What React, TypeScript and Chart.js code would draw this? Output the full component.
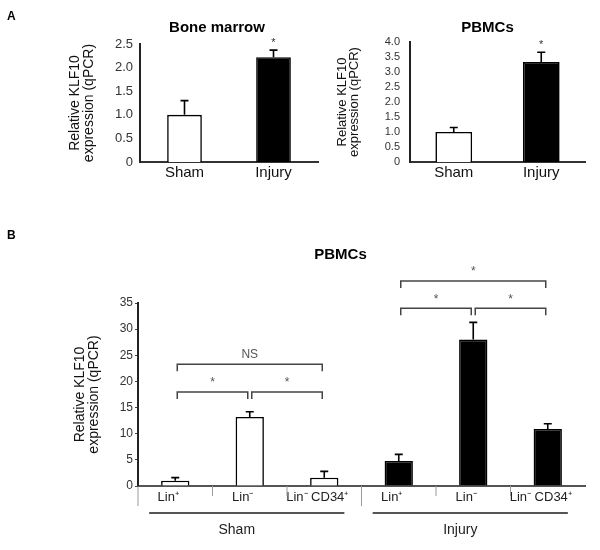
import React, { useEffect, useRef } from 'react';
import { Chart, registerables } from 'chart.js';

Chart.register(...registerables);

const FONT = '"Liberation Sans", Arial, Helvetica, sans-serif';

// ---------- Panel A: bone marrow ----------
const bmCategories = ['Sham', 'Injury'];
const bmValues = [1.0, 2.22];
const bmErrors = [0.3, 0.15];
const bmMarks = ['', '*'];

// ---------- Panel A: PBMCs ----------
const pbCategories = ['Sham', 'Injury'];
const pbValues = [1.0, 3.33];
const pbErrors = [0.15, 0.33];
const pbMarks = ['', '*'];

// ---------- Panel B: PBMC subsets ----------
const bCategories = ['Lin⁺', 'Lin⁻', 'Lin⁻ CD34⁺', 'Lin⁺', 'Lin⁻', 'Lin⁻ CD34⁺'];
const bValues = [1.0, 13.2, 1.6, 4.8, 28.0, 10.9];
const bErrors = [0.6, 1.0, 1.2, 1.25, 3.3, 1.0];
const bGroups = [
  { label: 'Sham', from: 0, to: 2 },
  { label: 'Injury', from: 3, to: 5 },
];
const bBrackets = [
  { from: 0, to: 1, level: 18, label: '*' },
  { from: 1, to: 2, level: 18, label: '*' },
  { from: 0, to: 2, level: 23.3, label: 'NS' },
  { from: 3, to: 4, level: 34, label: '*' },
  { from: 4, to: 5, level: 34, label: '*' },
  { from: 3, to: 5, level: 39.2, label: '*' },
];

const yTitle = ['Relative KLF10', 'expression (qPCR)'];

type Txt = { text: string; dx?: number; x?: number; y: number; font: string };

const errorBarPlugin = (errors: number[], marks: string[]) => ({
  id: 'errorBars',
  afterDatasetsDraw(chart: any) {
    const { ctx } = chart;
    const yScale = chart.scales.y;
    const meta = chart.getDatasetMeta(0);
    const data = chart.data.datasets[0].data as number[];
    ctx.save();
    ctx.strokeStyle = '#000';
    ctx.lineWidth = 1.6;
    meta.data.forEach((bar: any, i: number) => {
      const base = yScale.getPixelForValue(data[i]);
      const top = yScale.getPixelForValue(data[i] + errors[i]);
      ctx.beginPath();
      ctx.moveTo(bar.x, base);
      ctx.lineTo(bar.x, top);
      ctx.moveTo(bar.x - 4, top);
      ctx.lineTo(bar.x + 4, top);
      ctx.stroke();
      if (marks[i]) {
        ctx.fillStyle = '#333';
        ctx.font = `11px ${FONT}`;
        ctx.textAlign = 'center';
        ctx.textBaseline = 'middle';
        ctx.fillText(marks[i], bar.x, top - 7);
      }
    });
    ctx.restore();
  },
});

const textPlugin = (texts: Txt[]) => ({
  id: 'panelTexts',
  afterDraw(chart: any) {
    const { ctx, chartArea } = chart;
    ctx.save();
    ctx.fillStyle = '#000';
    ctx.textBaseline = 'middle';
    texts.forEach((t) => {
      ctx.font = t.font;
      if (t.x !== undefined) {
        ctx.textAlign = 'left';
        ctx.fillText(t.text, t.x, t.y);
      } else {
        ctx.textAlign = 'center';
        ctx.fillText(t.text, (chartArea.left + chartArea.right) / 2 + (t.dx || 0), t.y);
      }
    });
    ctx.restore();
  },
});

const bracketPlugin = {
  id: 'brackets',
  afterDraw(chart: any) {
    const { ctx, chartArea } = chart;
    const x = chart.scales.x;
    const y = chart.scales.y;
    const w = x.getPixelForValue(1) - x.getPixelForValue(0);
    ctx.save();
    // significance brackets
    ctx.strokeStyle = '#444';
    ctx.lineWidth = 1.5;
    ctx.fillStyle = '#555';
    ctx.textAlign = 'center';
    ctx.textBaseline = 'middle';
    ctx.font = `12px ${FONT}`;
    bBrackets.forEach((b) => {
      const x1 = x.getPixelForValue(b.from) + 2;
      const x2 = x.getPixelForValue(b.to) - 2;
      const yy = y.getPixelForValue(b.level);
      ctx.beginPath();
      ctx.moveTo(x1, yy + 7);
      ctx.lineTo(x1, yy);
      ctx.lineTo(x2, yy);
      ctx.lineTo(x2, yy + 7);
      ctx.stroke();
      ctx.fillText(b.label, (x1 + x2) / 2, yy - 9);
    });
    // category separators below the axis
    ctx.strokeStyle = '#999';
    ctx.lineWidth = 1;
    for (let i = 0; i < bCategories.length; i++) {
      const bx = i === 0 ? chartArea.left : (x.getPixelForValue(i - 1) + x.getPixelForValue(i)) / 2;
      const len = i === 0 || i === 3 ? 20 : 10;
      ctx.beginPath();
      ctx.moveTo(bx, chartArea.bottom);
      ctx.lineTo(bx, chartArea.bottom + len);
      ctx.stroke();
    }
    // group underlines and labels
    ctx.strokeStyle = '#555';
    ctx.lineWidth = 1.8;
    ctx.fillStyle = '#222';
    ctx.font = `14px ${FONT}`;
    bGroups.forEach((g) => {
      const gx1 = x.getPixelForValue(g.from) - 0.35 * w;
      const gx2 = x.getPixelForValue(g.to) + 0.27 * w;
      const gy = chartArea.bottom + 27;
      ctx.beginPath();
      ctx.moveTo(gx1, gy);
      ctx.lineTo(gx2, gy);
      ctx.stroke();
      ctx.fillText(g.label, (gx1 + gx2) / 2 - 10, gy + 17);
    });
    ctx.restore();
  },
};

function smallConfig(opts: {
  labels: string[];
  values: number[];
  errors: number[];
  marks: string[];
  max: number;
  yWidth: number;
  xHeight: number;
  padTop: number;
  padRight: number;
  barPct: number;
  tickFont: number;
  tickPad: number;
  titleFont: number;
  titleLH: number;
  titlePad: number;
  texts: Txt[];
}): any {
  return {
    type: 'bar',
    data: {
      labels: opts.labels,
      datasets: [
        {
          data: opts.values,
          backgroundColor: ['#ffffff', '#000000'],
          borderColor: '#000000',
          borderWidth: 1.6,
          barPercentage: opts.barPct,
          categoryPercentage: 1,
        },
      ],
    },
    options: {
      responsive: false,
      animation: false,
      devicePixelRatio: 1,
      layout: { padding: { top: opts.padTop, right: opts.padRight, bottom: 0, left: 0 } },
      plugins: { legend: { display: false }, tooltip: { enabled: false } },
      scales: {
        x: {
          grid: { display: false, drawTicks: false },
          border: { display: true, color: '#333', width: 2 },
          ticks: { color: '#111', font: { family: FONT, size: 15 }, padding: 2 },
          afterFit: (s: any) => {
            s.height = opts.xHeight;
          },
        },
        y: {
          min: 0,
          max: opts.max,
          grid: { display: false, drawTicks: false },
          border: { display: true, color: '#222', width: 2 },
          ticks: {
            stepSize: 0.5,
            autoSkip: false,
            color: '#333',
            padding: opts.tickPad,
            font: { family: FONT, size: opts.tickFont },
            callback: (v: number) => (v === 0 ? '0' : v.toFixed(1)),
          },
          title: {
            display: true,
            text: yTitle,
            color: '#111',
            font: { family: FONT, size: opts.titleFont, lineHeight: opts.titleLH },
            padding: { top: opts.titlePad, bottom: 0 },
          },
          afterFit: (s: any) => {
            s.width = opts.yWidth;
          },
        },
      },
    },
    plugins: [errorBarPlugin(opts.errors, opts.marks), textPlugin(opts.texts)],
  };
}

function panelBConfig(): any {
  return {
    type: 'bar',
    data: {
      labels: bCategories,
      datasets: [
        {
          data: bValues,
          backgroundColor: ['#ffffff', '#ffffff', '#ffffff', '#000000', '#000000', '#000000'],
          borderColor: '#000000',
          borderWidth: 1.6,
          barPercentage: 0.38,
          categoryPercentage: 1,
        },
      ],
    },
    options: {
      responsive: false,
      animation: false,
      devicePixelRatio: 1,
      layout: { padding: { top: 83, right: 15, bottom: 0, left: 0 } },
      plugins: { legend: { display: false }, tooltip: { enabled: false } },
      scales: {
        x: {
          grid: { display: false, drawTicks: false },
          border: { display: true, color: '#555', width: 2 },
          ticks: { color: '#222', font: { family: FONT, size: 13 }, padding: 4, labelOffset: -7, autoSkip: false, maxRotation: 0 },
          afterFit: (s: any) => {
            s.height = 64;
          },
        },
        y: {
          min: 0,
          max: 35,
          grid: { display: true, drawOnChartArea: false, drawTicks: true, tickLength: 3, color: '#444', lineWidth: 1 },
          border: { display: true, color: '#222', width: 2 },
          ticks: { stepSize: 5, autoSkip: false, color: '#333', padding: 2, font: { family: FONT, size: 12 } },
          title: {
            display: true,
            text: yTitle,
            color: '#111',
            font: { family: FONT, size: 14, lineHeight: 1.0 },
            padding: { top: 73, bottom: 0 },
          },
          afterFit: (s: any) => {
            s.width = 138;
          },
        },
      },
    },
    plugins: [
      errorBarPlugin(bErrors, ['', '', '', '', '', '']),
      bracketPlugin,
      textPlugin([
        { text: 'B', x: 7, y: 16, font: `bold 12px ${FONT}` },
        { text: 'PBMCs', dx: -21, y: 35, font: `bold 15px ${FONT}` },
      ]),
    ],
  };
}

export default function App() {
  const r1 = useRef<HTMLCanvasElement>(null);
  const r2 = useRef<HTMLCanvasElement>(null);
  const r3 = useRef<HTMLCanvasElement>(null);

  useEffect(() => {
    const c1 = new Chart(
      r1.current!,
      smallConfig({
        labels: bmCategories,
        values: bmValues,
        errors: bmErrors,
        marks: bmMarks,
        max: 2.5,
        yWidth: 140,
        xHeight: 38,
        padTop: 44,
        padRight: 12,
        barPct: 0.39,
        tickFont: 13,
        tickPad: 7,
        titleFont: 14,
        titleLH: 1.0,
        titlePad: 68,
        texts: [
          { text: 'A', x: 7, y: 17, font: `bold 12px ${FONT}` },
          { text: 'Bone marrow', dx: -12, y: 28, font: `bold 15px ${FONT}` },
        ],
      })
    );
    const c2 = new Chart(
      r2.current!,
      smallConfig({
        labels: pbCategories,
        values: pbValues,
        errors: pbErrors,
        marks: pbMarks,
        max: 4,
        yWidth: 110,
        xHeight: 38,
        padTop: 42,
        padRight: 15,
        barPct: 0.42,
        tickFont: 11,
        tickPad: 10,
        titleFont: 13,
        titleLH: 0.9,
        titlePad: 37,
        texts: [{ text: 'PBMCs', dx: -10, y: 28, font: `bold 15px ${FONT}` }],
      })
    );
    const c3 = new Chart(r3.current!, panelBConfig());
    return () => {
      c1.destroy();
      c2.destroy();
      c3.destroy();
    };
  }, []);

  return (
    <div style={{ position: 'absolute', left: 0, top: 0, width: 600, height: 550, background: '#fff' }}>
      <canvas ref={r1} width={330} height={200} style={{ position: 'absolute', left: 0, top: 0 }} />
      <canvas ref={r2} width={300} height={200} style={{ position: 'absolute', left: 300, top: 0 }} />
      <canvas ref={r3} width={600} height={330} style={{ position: 'absolute', left: 0, top: 220 }} />
    </div>
  );
}
